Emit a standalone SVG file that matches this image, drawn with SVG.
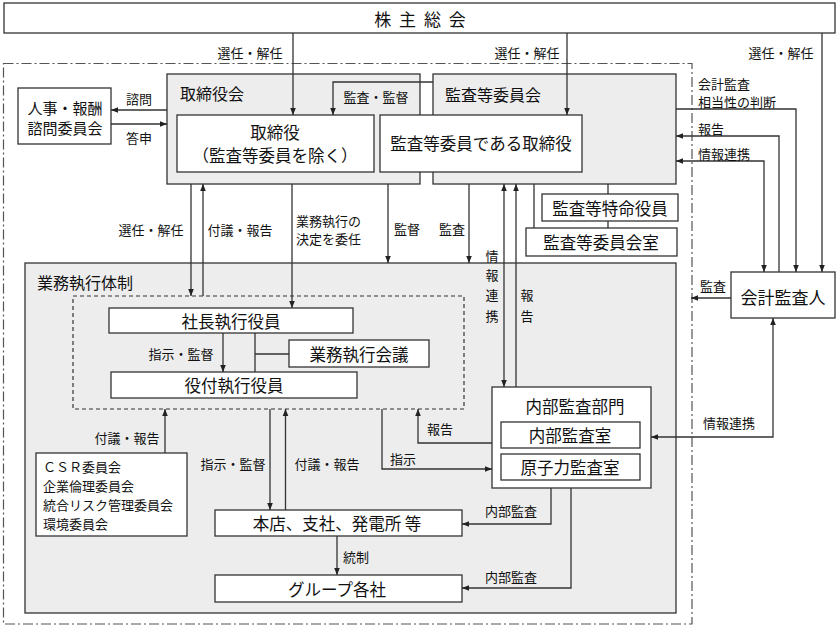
<svg xmlns="http://www.w3.org/2000/svg" width="840" height="628" viewBox="0 0 840 628">
<defs>
<style>
.bx{fill:#fff;stroke:#333;stroke-width:1.3}
.gr{fill:#ededed;stroke:#333;stroke-width:1.3}
.ln{fill:none;stroke:#333;stroke-width:1.3}
.t{font-family:"Noto Sans CJK JP","Noto Sans CJK SC",sans-serif;fill:#111;dominant-baseline:central}
.m{font-size:16.5px;text-anchor:middle}
.h{font-size:16px}
.s{font-size:13px}
.c{text-anchor:middle}
</style>
<marker id="ah" viewBox="0 0 10 10" refX="10" refY="5" markerWidth="7" markerHeight="7" markerUnits="userSpaceOnUse" orient="auto-start-reverse"><path d="M0,1 L10,5 L0,9 z" fill="#222"/></marker>
</defs>
<rect width="840" height="628" fill="#fff"/>
<rect x="3.5" y="63.5" width="688.5" height="560.5" fill="none" stroke="#555" stroke-width="1.2" stroke-dasharray="10 3 2 3"/>

<g id="kabunushi"><rect class="bx" x="4" y="3" width="831" height="30"/><text class="t c" x="421" y="18" font-size="17" letter-spacing="2">株 主 総 会</text></g>
<g id="torishimariyakukai"><rect class="gr" x="167" y="74" width="253" height="110"/><text class="t h" x="180" y="93">取締役会</text></g>
<g id="kansatoiinkai"><rect class="gr" x="433" y="74" width="243" height="110"/><text class="t h" x="445" y="94">監査等委員会</text></g>
<g id="torishimariyaku"><rect class="bx" x="177" y="115" width="197" height="57"/><text class="t m" x="275" y="132">取締役</text><text class="t m" x="275" y="155">（監査等委員を除く）</text></g>
<g id="kansatoiin-torishimariyaku"><rect class="bx" x="380" y="115" width="202" height="57"/><text class="t m" x="481" y="143">監査等委員である取締役</text></g>
<g id="jinji"><rect class="bx" x="18" y="88" width="93" height="56"/><text class="t c" x="65" y="107" font-size="15">人事・報酬</text><text class="t c" x="65" y="127" font-size="15">諮問委員会</text></g>
<g id="tokumei"><rect class="bx" x="542" y="194" width="136" height="27"/><text class="t m" x="610" y="208">監査等特命役員</text></g>
<g id="iinkaishitsu"><rect class="bx" x="526" y="228" width="151" height="28"/><text class="t m" x="601" y="242">監査等委員会室</text></g>
<g id="kaikeikansanin"><rect class="bx" x="731" y="272" width="104" height="46"/><text class="t c" x="783" y="296" font-size="17">会計監査人</text></g>
<g id="gyomushikkotaisei"><rect class="gr" x="25" y="263" width="651" height="350"/><text class="t h" x="37" y="282">業務執行体制</text></g>
<g id="shikkogroup"><rect x="73" y="296" width="391" height="113" fill="none" stroke="#333" stroke-width="1.2" stroke-dasharray="4 3"/></g>
<g id="shacho"><rect class="bx" x="109" y="308" width="244" height="25"/><text class="t m" x="231" y="321">社長執行役員</text></g>
<g id="kaigi"><rect class="bx" x="289" y="340" width="140" height="27"/><text class="t m" x="359" y="354">業務執行会議</text></g>
<g id="yakuzuke"><rect class="bx" x="111" y="372" width="246" height="26"/><text class="t m" x="234" y="385">役付執行役員</text></g>
<g id="csr"><rect class="bx" x="36" y="453" width="151" height="83"/><text class="t" x="43" y="466" font-size="13">ＣＳＲ委員会</text><text class="t" x="43" y="485" font-size="13">企業倫理委員会</text><text class="t" x="43" y="504" font-size="13">統合リスク管理委員会</text><text class="t" x="43" y="523" font-size="13">環境委員会</text></g>
<g id="naibukansabumon"><rect class="bx" x="492" y="387" width="159" height="101"/><text class="t m" x="575" y="406">内部監査部門</text></g>
<g id="naibukansashitsu"><rect class="bx" x="501" y="422" width="139" height="26"/><text class="t m" x="570" y="435">内部監査室</text></g>
<g id="genshiryoku"><rect class="bx" x="501" y="454" width="139" height="26"/><text class="t m" x="570" y="467">原子力監査室</text></g>
<g id="honten"><rect class="bx" x="215" y="510" width="247" height="26"/><text class="t m" x="337" y="523">本店、支社、発電所 等</text></g>
<g id="group"><rect class="bx" x="215" y="575" width="247" height="27"/><text class="t m" x="337" y="589">グループ各社</text></g>

<g id="connectors">
<path class="ln" d="M293,33 V115" marker-end="url(#ah)"/>
<path class="ln" d="M567,33 V115" marker-end="url(#ah)"/>
<path class="ln" d="M822,33 V272" marker-end="url(#ah)"/>
<path class="ln" d="M433,82 H333 V115" marker-end="url(#ah)"/>
<path class="ln" d="M167,110 H111" marker-end="url(#ah)"/>
<path class="ln" d="M111,124 H167" marker-end="url(#ah)"/>
<path class="ln" d="M676,109 H796 V272" marker-end="url(#ah)"/>
<path class="ln" d="M779,272 V136 H676" marker-end="url(#ah)"/>
<path class="ln" d="M764,272 V161 H676" marker-start="url(#ah)" marker-end="url(#ah)"/>
<path class="ln" d="M731,298 H691" marker-end="url(#ah)"/>
<path class="ln" d="M773,318 V437 H651" marker-start="url(#ah)" marker-end="url(#ah)"/>
<path class="ln" d="M608,184 V194 M608,221 V228 M534,184 V228"/>
<path class="ln" d="M191,184 V296" marker-end="url(#ah)"/>
<path class="ln" d="M203,296 V184" marker-end="url(#ah)"/>
<path class="ln" d="M292,184 V308" marker-end="url(#ah)"/>
<path class="ln" d="M388,184 V263" marker-end="url(#ah)"/>
<path class="ln" d="M469,184 V263" marker-end="url(#ah)"/>
<path class="ln" d="M504,184 V387" marker-start="url(#ah)" marker-end="url(#ah)"/>
<path class="ln" d="M516,387 V184" marker-end="url(#ah)"/>
<path class="ln" d="M223,333 V372" marker-end="url(#ah)"/>
<path class="ln" d="M255,333 V372 M255,354 H289"/>
<path class="ln" d="M165,453 V409" marker-end="url(#ah)"/>
<path class="ln" d="M270,409 V510" marker-end="url(#ah)"/>
<path class="ln" d="M285.5,510 V409" marker-end="url(#ah)"/>
<path class="ln" d="M492,443 H418 V409" marker-end="url(#ah)"/>
<path class="ln" d="M382,409 V469 H492" marker-end="url(#ah)"/>
<path class="ln" d="M551,488 V524 H462" marker-end="url(#ah)"/>
<path class="ln" d="M571,488 V588 H462" marker-end="url(#ah)"/>
<path class="ln" d="M337,536 V575" marker-end="url(#ah)"/>
<text class="t s c" x="250" y="52">選任・解任</text>
<text class="t s c" x="527" y="52">選任・解任</text>
<text class="t s c" x="781" y="52">選任・解任</text>
<text class="t s c" x="376" y="96">監査・監督</text>
<text class="t s c" x="139" y="98">諮問</text>
<text class="t s c" x="139" y="137">答申</text>
<text class="t s" x="698" y="83">会計監査</text>
<text class="t s" x="698" y="101">相当性の判断</text>
<text class="t s" x="698" y="128">報告</text>
<text class="t s" x="698" y="153">情報連携</text>
<text class="t s c" x="151" y="229">選任・解任</text>
<text class="t s c" x="240" y="229">付議・報告</text>
<text class="t s" x="296" y="220">業務執行の</text>
<text class="t s" x="296" y="238">決定を委任</text>
<text class="t s" x="394" y="228">監督</text>
<text class="t s" x="439" y="228">監査</text>
<text class="t s c" x="492" y="255">情</text>
<text class="t s c" x="492" y="274">報</text>
<text class="t s c" x="492" y="294">連</text>
<text class="t s c" x="492" y="315">携</text>
<text class="t s c" x="527" y="294">報</text>
<text class="t s c" x="527" y="315">告</text>
<text class="t s c" x="181" y="353">指示・監督</text>
<text class="t s c" x="713" y="285">監査</text>
<text class="t s c" x="729" y="422">情報連携</text>
<text class="t s c" x="127" y="437">付議・報告</text>
<text class="t s c" x="440" y="428">報告</text>
<text class="t s c" x="403" y="458">指示</text>
<text class="t s c" x="233" y="463">指示・監督</text>
<text class="t s c" x="327" y="463">付議・報告</text>
<text class="t s c" x="511" y="510">内部監査</text>
<text class="t s c" x="356" y="556">統制</text>
<text class="t s c" x="511" y="576">内部監査</text>
</g>
</svg>
